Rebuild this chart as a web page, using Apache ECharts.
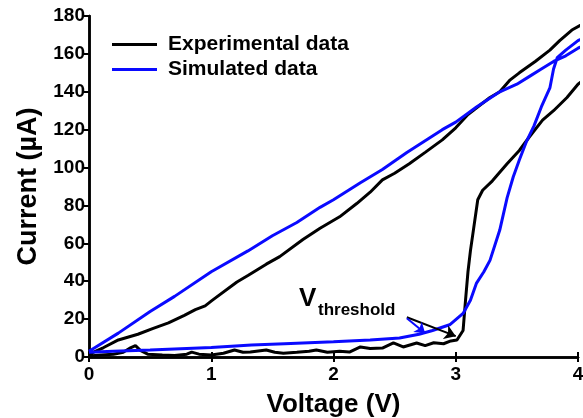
<!DOCTYPE html>
<html>
<head>
<meta charset="utf-8">
<script src="https://cdn.jsdelivr.net/npm/echarts@6/dist/echarts.min.js"></script>
<style>
  html, body { margin: 0; padding: 0; background: #fff; }
  #chart { width: 583px; height: 418px; }
</style>
</head>
<body>
<div id="chart"></div>
<script>
// experimental sweep: lower branch 0 -> 4 V, then upper branch back to 0
var expVoltage = [0, 0.1, 0.2, 0.28, 0.33, 0.38, 0.42, 0.48, 0.6, 0.7, 0.8, 0.84, 0.9, 1.0, 1.1, 1.19, 1.26, 1.32,
  1.45, 1.52, 1.59, 1.7, 1.8, 1.86, 1.95, 2.05, 2.13, 2.22, 2.3, 2.4, 2.49, 2.57, 2.68, 2.75, 2.82, 2.9, 2.96, 3.01,
  3.06, 3.08, 3.1, 3.12, 3.14, 3.18, 3.22, 3.3, 3.42, 3.52, 3.6, 3.71, 3.8, 3.91, 4.0, 4.1,
  4.1, 3.95, 3.85, 3.77, 3.65, 3.52, 3.44, 3.36, 3.28, 3.2, 3.1, 3.0, 2.89, 2.75, 2.62, 2.5, 2.4, 2.3, 2.19, 2.05,
  1.89, 1.75, 1.56, 1.45, 1.3, 1.21, 1.01, 0.95, 0.87, 0.78, 0.65, 0.52, 0.4, 0.24, 0.12, 0.02, 0];
var expCurrent = [0.5, 1, 1.5, 2.5, 4.5, 6, 3.5, 1.5, 1, 0.8, 1.5, 2.6, 1.5, 1, 2, 3.7, 2.5, 2.6,
  3.7, 2.5, 2, 2.5, 3, 3.7, 2.5, 3, 2.6, 5.3, 4.5, 4.7, 7.4, 5.3, 7.4, 6, 7.5, 7, 8.5, 9,
  14, 30, 45, 56, 65, 83, 88, 93, 102, 109, 116, 125, 130, 137, 144, 149,
  178, 172.6, 167, 162, 156, 150, 146, 140, 137, 133, 128, 121, 114.6, 108, 102, 97, 93.5, 87, 81, 74,
  68, 62, 53, 49, 43, 39.6, 30, 27, 25, 22, 18, 15, 12, 9, 5, 2, 1];

// simulated sweep
var simVoltage = [0, 0.2, 0.5, 0.8, 1.0, 1.33, 1.6, 2.0, 2.3, 2.54, 2.7, 2.81, 2.95, 3.06, 3.12, 3.17, 3.23, 3.28,
  3.36, 3.42, 3.47, 3.52, 3.58, 3.64, 3.7, 3.77, 3.8, 3.83, 3.9, 4.0, 4.1,
  4.1, 4.0, 3.9, 3.8, 3.7, 3.6, 3.5, 3.36, 3.17, 3.0, 2.89, 2.6, 2.4, 2.22, 2.0, 1.89, 1.7, 1.5, 1.3, 1.0,
  0.7, 0.5, 0.24, 0.05, 0];
var simCurrent = [2.5, 3, 3.7, 4.5, 5, 6.3, 7, 8, 9, 10, 12, 14, 17, 23, 30, 39, 45, 51,
  67, 84, 95, 104, 114, 122, 132, 142, 152, 158, 162, 167, 170,
  166, 163, 159, 156, 152, 148, 144, 140, 132, 124, 120, 108, 99, 92, 83, 79, 71, 64, 56, 45,
  32, 24, 12.6, 5, 3];

var xTicks = [0, 1, 2, 3, 4];
var yTicks = [0, 20, 40, 60, 80, 100, 120, 140, 160, 180];

function zip(xs, ys) {
  return xs.map(function (x, i) { return [x, ys[i]]; });
}

var font = 'Liberation Sans, Arial, sans-serif';
var axisLine = { show: true, lineStyle: { color: '#000', width: 2.5 } };

var chart = echarts.init(document.getElementById('chart'), null, { renderer: 'canvas' });
chart.setOption({
  animation: false,
  backgroundColor: '#fff',
  grid: { left: 89, right: 5, top: 16, bottom: 61, containLabel: false, outerBoundsMode: 'none' },
  legend: {
    orient: 'vertical',
    left: 107,
    top: 29,
    icon: 'rect',
    itemWidth: 45,
    itemHeight: 3,
    itemGap: 4,
    textStyle: { fontFamily: font, fontWeight: 'bold', fontSize: 21, color: '#000', padding: [0, 0, 0, 6] },
    data: ['Experimental data', 'Simulated data']
  },
  xAxis: [{
    type: 'value', position: 'bottom',
    min: xTicks[0], max: xTicks[xTicks.length - 1], interval: 1,
    name: 'Voltage (V)', nameLocation: 'middle', nameGap: 35,
    nameTextStyle: { fontFamily: font, fontWeight: 'bold', fontSize: 26, color: '#000' },
    axisLine: axisLine,
    axisTick: { inside: true, length: 5, lineStyle: { color: '#000', width: 2 } },
    axisLabel: { fontFamily: font, fontWeight: 'bold', fontSize: 19, color: '#000', margin: 8 },
    splitLine: { show: false }
  }, {
    type: 'value', position: 'top',
    min: xTicks[0], max: xTicks[xTicks.length - 1], interval: 1,
    axisLine: axisLine,
    axisTick: { inside: true, length: 5, lineStyle: { color: '#000', width: 2 } },
    axisLabel: { show: false },
    splitLine: { show: false }
  }],
  yAxis: [{
    type: 'value', position: 'left',
    min: yTicks[0], max: yTicks[yTicks.length - 1], interval: 20,
    name: 'Current (\u00b5A)', nameLocation: 'middle', nameGap: 47, nameRotate: 90,
    nameTextStyle: { fontFamily: font, fontWeight: 'bold', fontSize: 27, color: '#000' },
    axisLine: axisLine,
    axisTick: { inside: false, length: 4, lineStyle: { color: '#000', width: 2 } },
    axisLabel: { fontFamily: font, fontWeight: 'bold', fontSize: 19, color: '#000', margin: 4 },
    splitLine: { show: false }
  }, {
    type: 'value', position: 'right',
    min: yTicks[0], max: yTicks[yTicks.length - 1], interval: 20,
    axisLine: axisLine,
    axisTick: { inside: true, length: 5, lineStyle: { color: '#000', width: 2 } },
    axisLabel: { show: false },
    splitLine: { show: false }
  }],
  series: [{
    name: 'Experimental data',
    type: 'line',
    data: zip(expVoltage, expCurrent),
    symbol: 'none',
    clip: true,
    color: '#000',
    lineStyle: { color: '#000', width: 3 },
    markLine: {
      silent: true,
      symbol: ['none', 'arrow'],
      symbolSize: 11,
      label: { show: false },
      lineStyle: { color: '#000', width: 2, type: 'solid' },
      data: [[{ coord: [2.6, 21] }, { coord: [3.0, 11] }]]
    }
  }, {
    name: 'Simulated data',
    type: 'line',
    data: zip(simVoltage, simCurrent),
    symbol: 'none',
    clip: true,
    color: '#0a0aff',
    lineStyle: { color: '#0a0aff', width: 3 },
    markLine: {
      silent: true,
      symbol: ['none', 'arrow'],
      symbolSize: 10,
      label: { show: false },
      lineStyle: { color: '#0a0aff', width: 2, type: 'solid' },
      data: [[{ coord: [2.6, 20.5] }, { coord: [2.75, 12.5] }]]
    }
  }],
  graphic: [{
    type: 'text', left: 299, top: 286,
    style: { text: 'V', fontFamily: font, fontWeight: 'bold', fontSize: 26, fill: '#000' }
  }, {
    type: 'text', left: 318, top: 302,
    style: { text: 'threshold', fontFamily: font, fontWeight: 'bold', fontSize: 17, fill: '#000' }
  }]
});
</script>
</body>
</html>
